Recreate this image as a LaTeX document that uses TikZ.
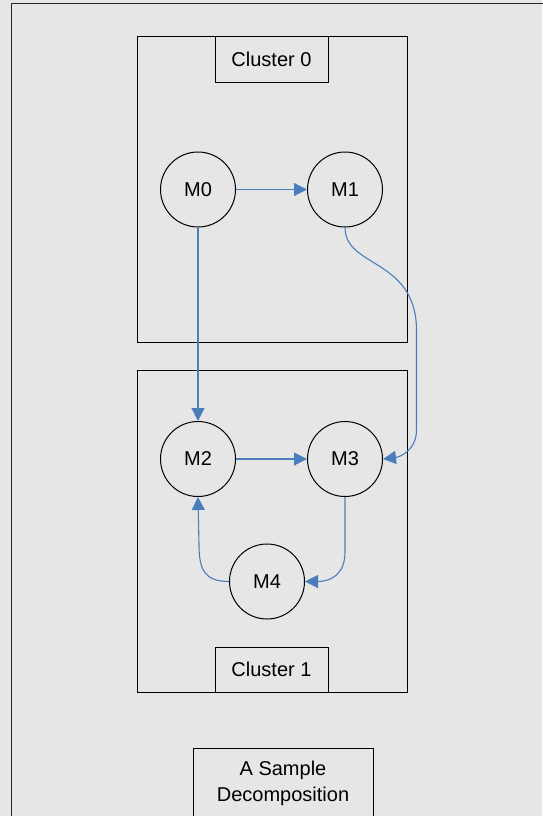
\documentclass[tikz,border=0pt]{standalone}
\usepackage{fontspec}
\setmainfont{Liberation Sans}
\usetikzlibrary{arrows.meta}
\definecolor{bg}{HTML}{E6E6E6}
\definecolor{edgeblue}{HTML}{4A7EBB}
\begin{document}
\begin{tikzpicture}[x=1pt,y=-1pt,
  every node/.style={font=\fontsize{20}{26}\selectfont},
  cluster/.style={draw=black, line width=1pt, minimum width=270pt, inner sep=0pt},
  titlebox/.style={draw=black, line width=1pt, fill=bg, minimum width=113pt, minimum height=45pt, inner sep=0pt},
  module/.style={draw=black, line width=1pt, circle, minimum size=75pt, inner sep=0pt, fill=bg},
  link/.style={draw=edgeblue, line width=1.1pt, -{Triangle[length=13pt,width=13pt]}},
  labelbox/.style={draw=black, line width=1pt, minimum width=180pt, minimum height=70pt, inner sep=0pt, align=center}]
\useasboundingbox (0,0) rectangle (542,816);
\fill[bg] (0,0) rectangle (542,816);
\draw[black!85, line width=1.3pt] (11.5,830) -- (11.5,3.5) -- (560,3.5);
% clusters
\node[cluster, minimum height=305pt] (c0) at (272,189.5) {};
\node[cluster, minimum height=322pt] (c1) at (272,531) {};
\node[titlebox] (t0) at (271.5,59.5) {Cluster 0};
\node[titlebox] (t1) at (271.5,669.5) {Cluster 1};
% modules
\node[module] (M0) at (198,189.5) {M0};
\node[module] (M1) at (345,189.5) {M1};
\node[module] (M2) at (198,459) {M2};
\node[module] (M3) at (345,459) {M3};
\node[module] (M4) at (267,581.5) {M4};
% edges
\draw[link] (M0) -- (M1);
\draw[link] (M0) -- (M2);
\draw[link] (M2) -- (M3);
\draw[link] (M1.south) .. controls (345,268) and (416,258) .. (416.5,330) -- (416.5,430) .. controls (416.5,450) and (400,457) .. (M3.east);
\draw[link] (M3.south) -- (345,552) .. controls (345,575) and (330,581.5) .. (M4.east);
\draw[link] (M4.west) .. controls (205,581.5) and (199,570) .. (199,545) -- (M2.south);
% caption
\node[labelbox, anchor=north] (cap) at (283,748) {A Sample\\Decomposition};
\end{tikzpicture}
\end{document}
